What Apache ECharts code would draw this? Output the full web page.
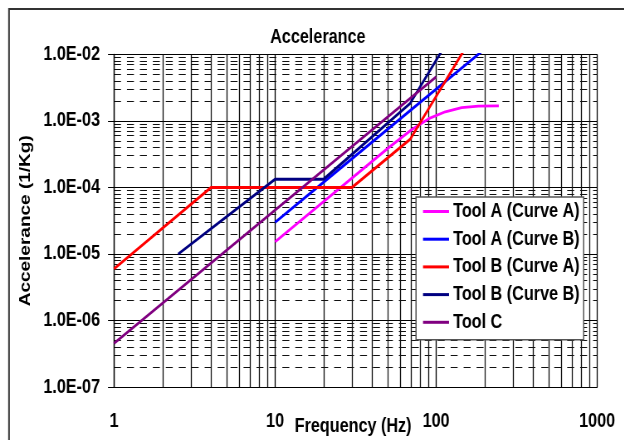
<!DOCTYPE html>
<html>
<head>
<meta charset="utf-8">
<script src="https://cdn.jsdelivr.net/npm/echarts@6/dist/echarts.min.js"></script>
<style>
  html, body { margin: 0; padding: 0; background: #fff; overflow: hidden; width: 624px; height: 440px; }
  /* the original chart is a horizontally squeezed spreadsheet chart:
     draw it wider, then squeeze it the same way */
  #chart { width: 752px; height: 440px; transform: scaleX(0.83); transform-origin: 0 0; }
</style>
</head>
<body>
<div id="chart"></div>
<script>
// values (frequency in Hz, accelerance in 1/Kg)
const toolACurveAFreq = [10, 50, 70, 90, 114, 144, 183, 245]
const toolACurveAVal = [1.53e-5, 3.85e-4, 7.3e-4, 1.08e-3, 1.37e-3, 1.58e-3, 1.67e-3, 1.68e-3]

const toolACurveBFreq = [10, 20, 70, 190]
const toolACurveBVal = [3.0e-5, 1.2e-4, 1.47e-3, 1.08e-2]

const toolBCurveAFreq = [1, 4, 30, 69, 150]
const toolBCurveAVal = [6.0e-6, 1.0e-4, 1.0e-4, 5.3e-4, 1.18e-2]

const toolBCurveBFreq = [2.5, 10, 20, 69, 110]
const toolBCurveBVal = [1.0e-5, 1.33e-4, 1.33e-4, 1.84e-3, 1.19e-2]

const toolCFreq = [1, 100]
const toolCVal = [4.58e-7, 4.58e-3]

const seriesNames = ['Tool A (Curve A)', 'Tool A (Curve B)', 'Tool B (Curve A)', 'Tool B (Curve B)', 'Tool C']
const seriesColors = ['#ff00ff', '#0000ff', '#ff0000', '#000080', '#800080']

const xTicks = [1, 10, 100, 1000]
const xTickLabels = ['1', '10', '100', '1000']
const yTicks = [1e-7, 1e-6, 1e-5, 1e-4, 1e-3, 1e-2]
const yTickLabels = ['1.0E-07', '1.0E-06', '1.0E-05', '1.0E-04', '1.0E-03', '1.0E-02']

// minor grid positions: 2..9 inside each decade
const minorSteps = [2, 3, 4, 5, 6, 7, 8, 9]
const xDecades = [1, 10, 100]
const yDecades = [1e-7, 1e-6, 1e-5, 1e-4, 1e-3]

const xMinor = []
xDecades.forEach(d => minorSteps.forEach(m => xMinor.push(d * m)))
const yMinor = []
yDecades.forEach(d => minorSteps.forEach(m => yMinor.push(d * m)))

const zip = (xs, ys) => xs.map((x, i) => [x, ys[i]])
const allData = [
  zip(toolACurveAFreq, toolACurveAVal),
  zip(toolACurveBFreq, toolACurveBVal),
  zip(toolBCurveAFreq, toolBCurveAVal),
  zip(toolBCurveBFreq, toolBCurveBVal),
  zip(toolCFreq, toolCVal),
]

const pickLabel = (ticks, labels) => v => {
  const i = ticks.findIndex(t => Math.abs(Math.log10(t / v)) < 1e-6)
  return i >= 0 ? labels[i] : ''
}

const font = "'Liberation Sans', Arial, sans-serif"
const sx = 0.83 // horizontal squeeze applied by css
const xMin = 1, xMax = 1000, yMin = 1e-7, yMax = 1e-2

const chart = echarts.init(document.getElementById('chart'), null, { renderer: 'canvas' })

const series = allData.map((d, i) => ({
  name: seriesNames[i],
  type: 'line',
  data: d,
  symbol: 'none',
  clip: true,
  z: 3,
  lineStyle: { color: seriesColors[i], width: 2.8 },
  itemStyle: { color: seriesColors[i] },
}))

// minor gridlines drawn as mark lines so they sit on the log scales
const gridLines = (name, lines, style) => ({
  name: name,
  type: 'line',
  data: [],
  symbol: 'none',
  silent: true,
  z: 1,
  markLine: {
    z: 1,
    silent: true,
    symbol: 'none',
    animation: false,
    label: { show: false },
    lineStyle: style,
    data: lines,
  },
})
series.push(gridLines(
  'minorX',
  xMinor.map(v => [{ coord: [v, yMin] }, { coord: [v, yMax] }]),
  { color: '#111', width: 1.3, type: 'solid' }
))
series.push(gridLines(
  'minorY',
  yMinor.map(v => [{ coord: [xMin, v] }, { coord: [xMax, v] }]),
  { color: '#111', width: 1, type: [8.4, 7.2] }
))

chart.setOption({
  animation: false,
  backgroundColor: '#fff',
  textStyle: { fontFamily: font },
  title: {
    text: 'Accelerance',
    left: 325.5,
    top: 28,
    padding: 0,
    textStyle: { fontFamily: font, fontSize: 19.5, fontWeight: 'bold', color: '#000' },
  },
  grid: { left: 114 / sx, right: 27 / sx, top: 54.3, bottom: 52.7, outerBoundsMode: 'none' },
  legend: {
    data: seriesNames,
    z: 20,
    orient: 'vertical',
    left: 416 / sx,
    top: 197,
    padding: [4.5, 4 / sx, 7.5, 7 / sx],
    itemWidth: 26 / sx,
    itemHeight: 3,
    itemGap: 7.7,
    icon: 'rect',
    backgroundColor: '#fff',
    borderColor: '#555',
    borderWidth: 1.5,
    borderRadius: 0,
    textStyle: { fontFamily: font, fontSize: 19.5, fontWeight: 'bold', color: '#000', lineHeight: 19.5 },
  },
  xAxis: {
    type: 'log',
    logBase: 10,
    min: xMin,
    max: xMax,
    name: 'Frequency (Hz)',
    nameLocation: 'middle',
    nameGap: 29.5,
    nameMoveOverlap: false,
    nameTextStyle: { fontFamily: font, fontSize: 19.5, fontWeight: 'bold', color: '#000', padding: [0, 6, 0, 0] },
    axisLine: { lineStyle: { color: '#000', width: 1 } },
    axisTick: { show: false },
    axisLabel: {
      margin: 24,
      fontFamily: font,
      fontSize: 19.5,
      fontWeight: 'bold',
      color: '#000',
      formatter: pickLabel(xTicks, xTickLabels),
    },
    splitLine: { show: true, lineStyle: { color: '#000', width: 1.3 } },
    minorTick: { show: false },
  },
  yAxis: {
    type: 'log',
    logBase: 10,
    min: yMin,
    max: yMax,
    name: 'Accelerance (1/Kg)',
    nameLocation: 'middle',
    nameGap: 97,
    nameMoveOverlap: false,
    nameTextStyle: { fontFamily: font, fontSize: 19, fontWeight: 'bold', color: '#000' },
    axisLine: { show: true, lineStyle: { color: '#000', width: 1.3 } },
    axisTick: { show: true, inside: false, length: 6 / sx, lineStyle: { color: '#000' } },
    axisLabel: {
      margin: 14 / sx,
      fontFamily: font,
      fontSize: 19.5,
      fontWeight: 'bold',
      color: '#000',
      formatter: pickLabel(yTicks, yTickLabels),
    },
    splitLine: { show: true, lineStyle: { color: '#000', width: 1 } },
  },
  graphic: [
    {
      type: 'rect',
      silent: true,
      z: 10,
      shape: { x: 9 / sx, y: 9, width: 900, height: 800 },
      style: { fill: 'none', stroke: '#333', lineWidth: 2 },
    },
  ],
  series: series,
})
</script>
</body>
</html>
